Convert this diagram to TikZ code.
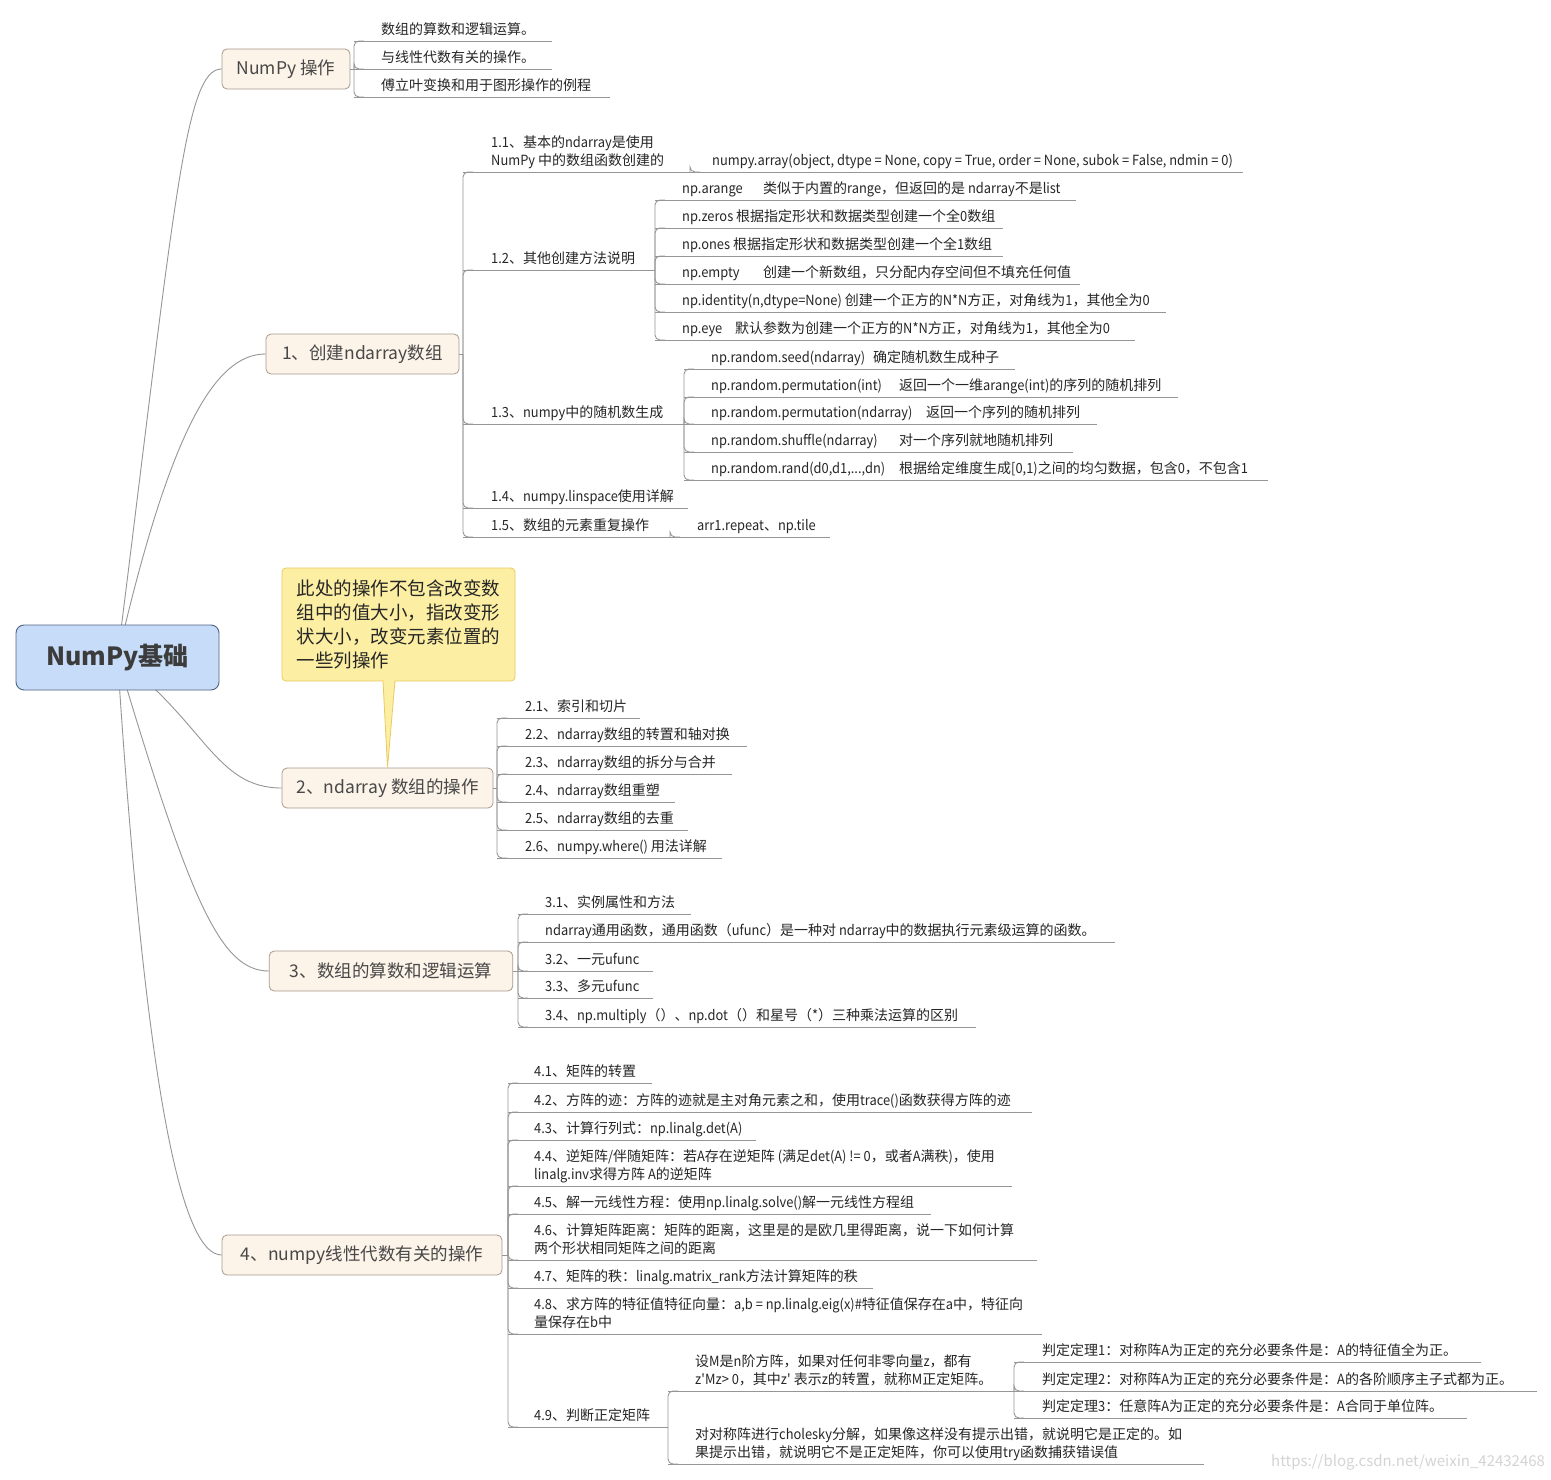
\documentclass[tikz,border=0pt]{standalone}
\usepackage{fontspec}
\setmainfont{Noto Sans CJK SC}
\newfontfamily\mmcjkfont{Noto Sans CJK SC}
\newfontfamily\mmlatinfont{Noto Sans CJK SC}[FakeStretch=0.92]
\newXeTeXintercharclass\mmcjkclass
\newcount\mmcnt
\def\mmsetclass#1#2{\mmcnt=#1\relax
  \loop\XeTeXcharclass\mmcnt=\mmcjkclass\relax
  \ifnum\mmcnt<#2\relax\advance\mmcnt by 1\relax\repeat}
\mmsetclass{"3000}{"303F}
\mmsetclass{"4E00}{"9FFF}
\mmsetclass{"FF00}{"FFEF}
\XeTeXinterchartoks 0 \mmcjkclass = {\begingroup\mmcjkfont}
\XeTeXinterchartoks 4095 \mmcjkclass = {\begingroup\mmcjkfont}
\XeTeXinterchartoks \mmcjkclass 0 = {\endgroup}
\XeTeXinterchartoks \mmcjkclass 4095 = {\endgroup}
\XeTeXinterchartokenstate=1
\usetikzlibrary{calc}
\definecolor{linec}{RGB}{150,150,150}
\definecolor{boxf}{RGB}{252,243,233}
\definecolor{boxd}{RGB}{168,154,140}
\definecolor{boxt}{RGB}{72,72,72}
\definecolor{rootf}{RGB}{198,220,248}
\definecolor{rootd}{RGB}{78,100,130}
\definecolor{roott}{RGB}{60,60,60}
\definecolor{calf}{RGB}{252,238,162}
\definecolor{cald}{RGB}{234,202,96}
\definecolor{subt}{RGB}{38,38,38}
\definecolor{wmc}{RGB}{212,212,212}
\tikzset{
  conn/.style={draw=linec, line width=0.9pt},
  fork/.style={conn, rounded corners=5pt},
  box/.style={draw=boxd, fill=boxf, rounded corners=5pt, line width=0.8pt,
    minimum height=40pt, inner sep=0pt, font=\fontsize{17.5}{21}\selectfont, text=boxt},
  rootbox/.style={draw=rootd, fill=rootf, rounded corners=8pt, line width=0.9pt,
    inner sep=0pt, font=\fontsize{25}{30}\selectfont\bfseries, text=roott},
  callout/.style={draw=cald, fill=calf, rounded corners=4pt, line width=0.8pt,
    inner sep=0pt, align=left, font=\fontsize{18.5}{24}\selectfont, text=subt},
  subtext/.style={anchor=south west, inner sep=0pt, text depth=0pt, align=left,
    font=\fontsize{14}{18}\mmlatinfont, text=subt},
  watermark/.style={inner sep=0pt, font=\fontsize{15}{18}\selectfont, text=wmc}
}
\newcommand\mmtopic[6][27]{%
  \coordinate (#2-s) at (#3,#4);
  \coordinate (#2-e) at (#5,#4);
  \node[subtext] (#2) at ({#3+#1},{#4-6.5}) {#6};
  \draw[conn] (#2-s) -- (#2-e);
}
\newcommand\mmfork[2]{\draw[fork] (#1) |- ([xshift=10pt]#2-s);}
\newcommand\mmcol[2]{\makebox[#1pt][l]{#2}}
\begin{document}
\begin{tikzpicture}[x=1pt,y=-1pt]
\useasboundingbox (0,0) rectangle (1551,1480);
\fill[white] (0,0) rectangle (1551,1480);

% ---------- first level boxes ----------
\node[box, minimum width=128pt] (b0) at (286,69) {NumPy 操作};
\node[box, minimum width=193pt] (b1) at (362.5,354) {1、创建ndarray数组};
\node[box, minimum width=211pt] (b2) at (387.5,788) {2、ndarray 数组的操作};
\node[box, minimum width=243.5pt] (b3) at (391,971) {3、数组的算数和逻辑运算};
\node[box, minimum width=280pt] (b4) at (362,1255) {4、numpy线性代数有关的操作};

% ---------- root curves ----------
\coordinate (rc) at (117.5,657.5);
\draw[conn] (rc) .. controls (175,200) and (185,69) .. (b0.west);
\draw[conn] (rc) .. controls (170,430) and (215,354) .. (b1.west);
\draw[conn] (rc) .. controls (205,722) and (215,788) .. (b2.west);
\draw[conn] (rc) .. controls (190,900) and (220,971) .. (b3.west);
\draw[conn] (rc) .. controls (145,1080) and (180,1255) .. (b4.west);
\node[rootbox, minimum width=203pt, minimum height=65pt] (root) at (rc) {NumPy基础};

% ---------- callout ----------
\node[callout, minimum width=233pt, minimum height=113pt] (note) at (398.5,624.5)
  {此处的操作不包含改变数\\组中的值大小，指改变形\\状大小，改变元素位置的\\一些列操作};
\filldraw[fill=calf, draw=cald, line width=0.8pt]
  ([xshift=-15.5pt,yshift=0.4pt]note.south) -- (b2.north) -- ([xshift=-3.5pt,yshift=0.4pt]note.south);
\fill[calf] ([xshift=-15pt,yshift=1.5pt]note.south) -- ([xshift=-9.5pt,yshift=-20pt]note.south) -- ([xshift=-4pt,yshift=1.5pt]note.south) -- cycle;

% ---------- junctions ----------
\coordinate (b0-j) at (354,69);
\coordinate (b1-j) at (463,354);
\coordinate (b2-j) at (497,788);
\coordinate (b3-j) at (518,971);
\coordinate (b4-j) at (508,1255);
\foreach \b in {b0,b1,b2,b3,b4} {\draw[conn] (\b.east) -- (\b-j);}

% ---------- NumPy 操作 ----------
\mmtopic{n01}{354}{41}{552}{数组的算数和逻辑运算。}
\mmtopic{n02}{354}{69}{552}{与线性代数有关的操作。}
\mmtopic{n03}{354}{97}{610}{傅立叶变换和用于图形操作的例程}
\foreach \c in {n01,n02,n03} {\mmfork{b0-j}{\c}}

% ---------- 1 ----------
\mmtopic[28]{s11}{463}{172}{690}{1.1、基本的ndarray是使用\\NumPy 中的数组函数创建的}
\mmtopic[22]{s111}{690}{172}{1243}{numpy.array(object, dtype = None, copy = True, order = None, subok = False, ndmin = 0)}
\mmtopic[28]{s12}{463}{270}{655}{1.2、其他创建方法说明}
\mmtopic[28]{s13}{463}{424}{684}{1.3、numpy中的随机数生成}
\mmtopic[28]{s14}{463}{508}{688}{1.4、numpy.linspace使用详解}
\mmtopic[28]{s15}{463}{537}{670}{1.5、数组的元素重复操作}
\mmtopic{s151}{670}{537}{830}{arr1.repeat、np.tile}
\foreach \c in {s11,s12,s13,s14,s15} {\mmfork{b1-j}{\c}}
\mmfork{s11-e}{s111}
\mmfork{s15-e}{s151}

\mmtopic{s121}{655}{200}{1076}{\mmcol{81}{np.arange}类似于内置的range，但返回的是 ndarray不是list}
\mmtopic{s122}{655}{228}{1003}{np.zeros 根据指定形状和数据类型创建一个全0数组}
\mmtopic{s123}{655}{256}{1003}{np.ones 根据指定形状和数据类型创建一个全1数组}
\mmtopic{s124}{655}{284}{1080}{\mmcol{81}{np.empty}创建一个新数组，只分配内存空间但不填充任何值}
\mmtopic{s125}{655}{312}{1166}{np.identity(n,dtype=None) 创建一个正方的N*N方正，对角线为1，其他全为0}
\mmtopic{s126}{655}{340}{1135}{\mmcol{53}{np.eye}默认参数为创建一个正方的N*N方正，对角线为1，其他全为0}
\foreach \c in {s121,s122,s123,s124,s125,s126} {\mmfork{s12-e}{\c}}

\mmtopic{s131}{684}{369}{1015}{\mmcol{162}{np.random.seed(ndarray)}确定随机数生成种子}
\mmtopic{s132}{684}{397}{1178}{\mmcol{188}{np.random.permutation(int)}返回一个一维arange(int)的序列的随机排列}
\mmtopic{s133}{684}{424}{1097}{\mmcol{215}{np.random.permutation(ndarray)}返回一个序列的随机排列}
\mmtopic{s134}{684}{452}{1073}{\mmcol{188}{np.random.shuffle(ndarray)}对一个序列就地随机排列}
\mmtopic{s135}{684}{480}{1268}{\mmcol{188}{np.random.rand(d0,d1,...,dn)}根据给定维度生成[0,1)之间的均匀数据，包含0，不包含1}
\foreach \c in {s131,s132,s133,s134,s135} {\mmfork{s13-e}{\c}}

% ---------- 2 ----------
\mmtopic[28]{s21}{497}{718}{640}{2.1、索引和切片}
\mmtopic[28]{s22}{497}{746}{747}{2.2、ndarray数组的转置和轴对换}
\mmtopic[28]{s23}{497}{774}{732}{2.3、ndarray数组的拆分与合并}
\mmtopic[28]{s24}{497}{802}{675}{2.4、ndarray数组重塑}
\mmtopic[28]{s25}{497}{830}{688}{2.5、ndarray数组的去重}
\mmtopic[28]{s26}{497}{858}{722}{2.6、numpy.where() 用法详解}
\foreach \c in {s21,s22,s23,s24,s25,s26} {\mmfork{b2-j}{\c}}

% ---------- 3 ----------
\mmtopic{s31}{518}{914}{691}{3.1、实例属性和方法}
\mmtopic{s3u}{518}{942}{1115}{ndarray通用函数，通用函数（ufunc）是一种对 ndarray中的数据执行元素级运算的函数。}
\mmtopic{s32}{518}{971}{653}{3.2、一元ufunc}
\mmtopic{s33}{518}{998}{653}{3.3、多元ufunc}
\mmtopic{s34}{518}{1027}{976}{3.4、np.multiply（）、np.dot（）和星号（*）三种乘法运算的区别}
\foreach \c in {s31,s3u,s32,s33,s34} {\mmfork{b3-j}{\c}}

% ---------- 4 ----------
\mmtopic[26]{s41}{508}{1083}{652}{4.1、矩阵的转置}
\mmtopic[26]{s42}{508}{1112}{1032}{4.2、方阵的迹：方阵的迹就是主对角元素之和，使用trace()函数获得方阵的迹}
\mmtopic[26]{s43}{508}{1140}{756}{4.3、计算行列式：np.linalg.det(A)}
\mmtopic[26]{s44}{508}{1186}{1012}{4.4、逆矩阵/伴随矩阵：若A存在逆矩阵 (满足det(A) != 0，或者A满秩)，使用\\linalg.inv求得方阵 A的逆矩阵}
\mmtopic[26]{s45}{508}{1214}{931}{4.5、解一元线性方程：使用np.linalg.solve()解一元线性方程组}
\mmtopic[26]{s46}{508}{1260}{1037}{4.6、计算矩阵距离：矩阵的距离，这里是的是欧几里得距离，说一下如何计算\\两个形状相同矩阵之间的距离}
\mmtopic[26]{s47}{508}{1288}{873}{4.7、矩阵的秩：linalg.matrix\_rank方法计算矩阵的秩}
\mmtopic[26]{s48}{508}{1334}{1042}{4.8、求方阵的特征值特征向量：a,b = np.linalg.eig(x)\#特征值保存在a中，特征向\\量保存在b中}
\mmtopic[26]{s49}{508}{1427}{668}{4.9、判断正定矩阵}
\foreach \c in {s41,s42,s43,s44,s45,s46,s47,s48,s49} {\mmfork{b4-j}{\c}}

\mmtopic{s491}{668}{1391}{1014}{设M是n阶方阵，如果对任何非零向量z，都有\\z\textquotesingle Mz> 0，其中z\textquotesingle{} 表示z的转置，就称M正定矩阵。}
\mmtopic{s492}{668}{1464}{1204}{对对称阵进行cholesky分解，如果像这样没有提示出错，就说明它是正定的。如\\果提示出错，就说明它不是正定矩阵，你可以使用try函数捕获错误值}
\foreach \c in {s491,s492} {\mmfork{s49-e}{\c}}

\mmtopic[28]{t1}{1014}{1362}{1481}{判定定理1：对称阵A为正定的充分必要条件是：A的特征值全为正。}
\mmtopic[28]{t2}{1014}{1391}{1537}{判定定理2：对称阵A为正定的充分必要条件是：A的各阶顺序主子式都为正。}
\mmtopic[28]{t3}{1014}{1418}{1467}{判定定理3：任意阵A为正定的充分必要条件是：A合同于单位阵。}
\foreach \c in {t1,t2,t3} {\mmfork{s491-e}{\c}}

\node[watermark, anchor=west] (wm) at (1271,1462) {https://blog.csdn.net/weixin\_42432468};
\end{tikzpicture}
\end{document}
